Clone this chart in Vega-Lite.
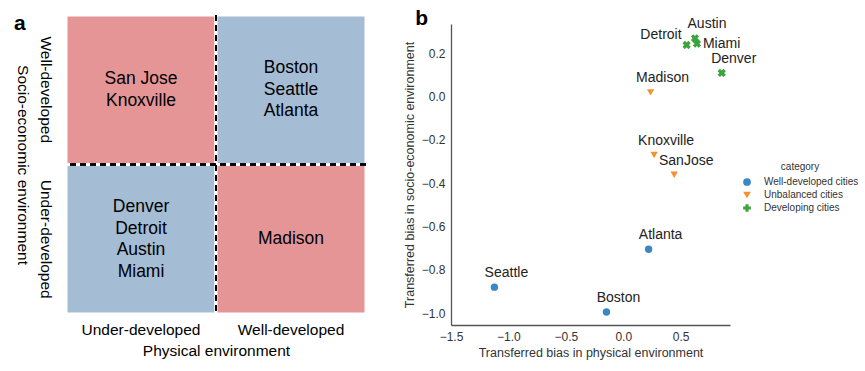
{
  "$schema": "https://vega.github.io/schema/vega-lite/v6.json",
  "padding": {"left": 14, "top": 8, "right": 5, "bottom": 5},
  "config": {"font": "Liberation Sans", "view": {"stroke": null}},
  "spacing": 35,
  "resolve": {"scale": {"color": "independent", "shape": "independent"}},
  "hconcat": [
    {
      "width": 300,
      "height": 290,
      "title": {"text": "a", "anchor": "start", "frame": "bounds", "fontSize": 21, "fontWeight": "bold", "color": "#000", "offset": -20},
      "data": {"values": [
        {"phys": "Under-developed", "socio": "Well-developed", "type": "unbalanced", "cities": "San Jose\nKnoxville"},
        {"phys": "Well-developed", "socio": "Well-developed", "type": "balanced", "cities": "Boston\nSeattle\nAtlanta"},
        {"phys": "Under-developed", "socio": "Under-developed", "type": "balanced", "cities": "Denver\nDetroit\nAustin\nMiami"},
        {"phys": "Well-developed", "socio": "Under-developed", "type": "unbalanced", "cities": "Madison"}
      ]},
      "encoding": {
        "x": {"field": "phys", "type": "nominal", "sort": ["Under-developed", "Well-developed"],
              "scale": {"paddingInner": 0, "paddingOuter": 0},
              "axis": {"title": "Physical environment", "labelAngle": 0, "ticks": false, "domain": false,
                       "labelFontSize": 15.5, "labelColor": "#000", "labelPadding": 8,
                       "titleFontSize": 15.5, "titleColor": "#000", "titleFontWeight": "normal", "titlePadding": 6}},
        "y": {"field": "socio", "type": "nominal", "sort": ["Well-developed", "Under-developed"],
              "scale": {"paddingInner": 0, "paddingOuter": 0, "range": [-9, 290]},
              "axis": {"title": "Socio-economic environment", "labelAngle": 90, "labelAlign": "center", "labelBaseline": "top",
                       "ticks": false, "domain": false, "labelFontSize": 15.5, "labelColor": "#000", "labelPadding": 14,
                       "titleAngle": 90, "titleBaseline": "top", "titleFontSize": 15.5, "titleColor": "#000", "titleFontWeight": "normal", "titlePadding": 7}}
      },
      "layer": [
        {"mark": {"type": "rect", "stroke": "#fff", "strokeWidth": 3},
         "encoding": {"color": {"field": "type", "type": "nominal", "scale": {"domain": ["unbalanced", "balanced"], "range": ["#e59596", "#a4bcd4"]}, "legend": null}}},
        {"transform": [{"filter": "datum.phys === 'Well-developed' && datum.socio === 'Under-developed'"}],
         "mark": {"type": "text", "lineBreak": "\n", "fontSize": 17.5, "lineHeight": 21.5, "color": "#000", "baseline": "middle"},
         "encoding": {"text": {"field": "cities"}}},
        {"transform": [{"filter": "datum.phys === 'Under-developed' && datum.socio === 'Well-developed'"}],
         "mark": {"type": "text", "lineBreak": "\n", "fontSize": 17.5, "lineHeight": 21.5, "color": "#000", "baseline": "middle", "dy": -10.75},
         "encoding": {"text": {"field": "cities"}}},
        {"transform": [{"filter": "datum.phys === 'Well-developed' && datum.socio === 'Well-developed'"}],
         "mark": {"type": "text", "lineBreak": "\n", "fontSize": 17.5, "lineHeight": 21.5, "color": "#000", "baseline": "middle", "dy": -21.5},
         "encoding": {"text": {"field": "cities"}}},
        {"transform": [{"filter": "datum.phys === 'Under-developed' && datum.socio === 'Under-developed'"}],
         "mark": {"type": "text", "lineBreak": "\n", "fontSize": 17.5, "lineHeight": 21.5, "color": "#000", "baseline": "middle", "dy": -32.25},
         "encoding": {"text": {"field": "cities"}}},
        {"mark": {"type": "rule", "strokeDash": [6, 4], "strokeWidth": 2, "color": "#000"},
         "encoding": {"x": {"datum": "Well-developed", "bandPosition": 0},
                      "y": {"datum": "Well-developed", "bandPosition": 0}, "y2": {"datum": "Under-developed", "bandPosition": 1}}},
        {"mark": {"type": "rule", "strokeDash": [6, 4], "strokeWidth": 2, "color": "#000"},
         "encoding": {"y": {"datum": "Under-developed", "bandPosition": 0}, "x": null}}
      ]
    },
    {
      "width": 279,
      "height": 301,
      "title": {"text": "b", "anchor": "start", "frame": "bounds", "fontSize": 21, "fontWeight": "bold", "color": "#000", "offset": -12, "dx": 12},
      "data": {"values": [
        {"city": "Seattle", "category": "Well-developed cities", "phys": -1.122, "socio": -0.88},
        {"city": "Boston", "category": "Well-developed cities", "phys": -0.146, "socio": -0.995},
        {"city": "Atlanta", "category": "Well-developed cities", "phys": 0.221, "socio": -0.705},
        {"city": "Madison", "category": "Unbalanced cities", "phys": 0.238, "socio": 0.02},
        {"city": "Knoxville", "category": "Unbalanced cities", "phys": 0.269, "socio": -0.269},
        {"city": "SanJose", "category": "Unbalanced cities", "phys": 0.444, "socio": -0.361},
        {"city": "Detroit", "category": "Developing cities", "phys": 0.552, "socio": 0.239},
        {"city": "Austin", "category": "Developing cities", "phys": 0.625, "socio": 0.27},
        {"city": "Miami", "category": "Developing cities", "phys": 0.642, "socio": 0.245},
        {"city": "Denver", "category": "Developing cities", "phys": 0.858, "socio": 0.11}
      ]},
      "encoding": {
        "x": {"field": "phys", "type": "quantitative",
              "scale": {"domain": [-1.5, 0.93], "nice": false, "zero": false},
              "axis": {"title": "Transferred bias in physical environment", "values": [-1.5, -1, -0.5, 0, 0.5], "format": ".1f",
                       "grid": false, "ticks": false, "domainColor": "#555", "domainWidth": 1.3, "labelFlush": false,
                       "labelFontSize": 12, "labelColor": "#333", "labelPadding": 6,
                       "titleFontSize": 12.5, "titleColor": "#333", "titleFontWeight": "normal", "titlePadding": 4}},
        "y": {"field": "socio", "type": "quantitative",
              "scale": {"domain": [-1.055, 0.336], "nice": false, "zero": false},
              "axis": {"title": "Transferred bias in socio-economic environment", "values": [-1, -0.8, -0.6, -0.4, -0.2, 0, 0.2], "format": ".1f",
                       "grid": false, "ticks": false, "domainColor": "#555", "domainWidth": 1.3, "labelFlush": false,
                       "labelFontSize": 12, "labelColor": "#333", "labelPadding": 6,
                       "titleFontSize": 12.5, "titleColor": "#333", "titleFontWeight": "normal", "titlePadding": 5}}
      },
      "layer": [
        {"mark": {"type": "point", "filled": true, "opacity": 1, "size": 55},
         "encoding": {
           "color": {"field": "category", "type": "nominal",
                     "scale": {"domain": ["Well-developed cities", "Unbalanced cities", "Developing cities"], "range": ["#3a87c6", "#f5922f", "#3aa53a"]},
                     "legend": {"orient": "none", "legendX": 291, "legendY": 138, "title": "category", "titleAnchor": "middle",
                                "titleFontSize": 10, "titleFontWeight": "normal", "titleColor": "#333", "labelFontSize": 10, "labelColor": "#333",
                                "symbolSize": 60, "rowPadding": 3, "labelOffset": 12}},
           "shape": {"field": "category", "type": "nominal",
                     "scale": {"domain": ["Well-developed cities", "Unbalanced cities", "Developing cities"], "range": ["circle", "triangle-down", "cross"]},
                     "legend": {"orient": "none", "legendX": 291, "legendY": 138, "title": "category", "titleAnchor": "middle",
                                "titleFontSize": 10, "titleFontWeight": "normal", "titleColor": "#333", "labelFontSize": 10, "labelColor": "#333",
                                "symbolSize": 60, "rowPadding": 3, "labelOffset": 12}},
           "angle": {"condition": {"test": "datum.category === 'Developing cities'", "value": 45}, "value": 0},
           "size": {"condition": {"test": "datum.category === 'Developing cities'", "value": 70}, "value": 55}
         }},
        {"transform": [{"filter": "datum.city !== 'Detroit' && datum.city !== 'Miami'"}],
         "mark": {"type": "text", "fontSize": 14, "color": "#222", "align": "center", "baseline": "middle", "dx": 12, "dy": -14},
         "encoding": {"text": {"field": "city"}}},
        {"transform": [{"filter": "datum.city === 'Detroit'"}],
         "mark": {"type": "text", "fontSize": 14, "color": "#222", "align": "right", "baseline": "middle", "dx": -5, "dy": -10},
         "encoding": {"text": {"field": "city"}}},
        {"transform": [{"filter": "datum.city === 'Miami'"}],
         "mark": {"type": "text", "fontSize": 14, "color": "#222", "align": "left", "baseline": "middle", "dx": 6, "dy": 0},
         "encoding": {"text": {"field": "city"}}}
      ]
    }
  ]
}
